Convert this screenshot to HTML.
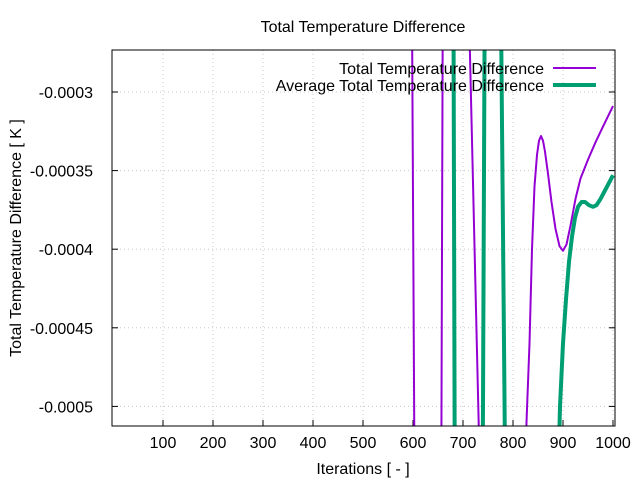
<!DOCTYPE html>
<html><head><meta charset="utf-8"><style>
html,body{margin:0;padding:0;background:#fff;overflow:hidden;width:640px;height:480px;}
svg{display:block;font-family:"Liberation Sans",sans-serif;}
</style></head><body>
<svg id="chart" width="640" height="480">
<defs><clipPath id="pc"><rect x="112" y="50" width="503" height="376"/></clipPath></defs>
<text x="363" y="32" font-size="16" text-anchor="middle">Total Temperature Difference</text>
<g id="grid"></g>
<g id="ticks" font-size="16"></g>
<text x="363" y="474" font-size="16" text-anchor="middle">Iterations [ - ]</text>
<text transform="translate(21,238) rotate(-90)" font-size="16" text-anchor="middle">Total Temperature Difference [ K ]</text>
<g id="series" clip-path="url(#pc)"></g>
<rect x="112" y="50" width="503" height="376" fill="none" stroke="#000" stroke-width="1"/>
<g font-size="16">
<text x="544" y="74" text-anchor="end">Total Temperature Difference</text>
<line x1="553" y1="68" x2="596" y2="68" stroke="#9400d3" stroke-width="2"/>
<text x="544" y="91" text-anchor="end">Average Total Temperature Difference</text>
<line x1="553" y1="85" x2="596" y2="85" stroke="#009e73" stroke-width="4"/>
</g>
</svg>
<script>
const xTicks=[100,200,300,400,500,600,700,800,900,1000];
const yTicks=[-0.0003,-0.00035,-0.0004,-0.00045,-0.0005];
const yTickLabels=["-0.0003","-0.00035","-0.0004","-0.00045","-0.0005"];
const totalX=[590,598,604,650,656,660,666,705,712,738,745,815,827,833,838,843,848,852,856,860,864,870,877,885,893,900,907,915,925,935,950,965,980,1000];
const totalY=[-0.0001,-0.00025,-0.0006,-0.0007,-0.0006,-0.0002,-0.0001,-0.0001,-0.00025,-0.0006,-0.0007,-0.0007,-0.00051,-0.00046,-0.0004,-0.00036,-0.00034,-0.000331,-0.000328,-0.000331,-0.000338,-0.000352,-0.00037,-0.000387,-0.000398,-0.000401,-0.000397,-0.000385,-0.000368,-0.000355,-0.000343,-0.000332,-0.000322,-0.000309];
const avgX=[676,681,684,690,736,740,744,770,776,786,790,885,890,894,900,906,912,918,924,930,937,944,952,960,967,975,985,1000];
const avgY=[-0.0001,-0.00025,-0.0006,-0.0007,-0.0007,-0.0005,-0.0002,-0.0001,-0.00025,-0.0006,-0.0007,-0.0007,-0.00055,-0.0005,-0.00046,-0.000432,-0.000408,-0.000392,-0.00038,-0.000373,-0.00037,-0.00037,-0.000372,-0.000373,-0.000372,-0.000368,-0.000362,-0.000353];
const NS="http://www.w3.org/2000/svg";
const xs=v=>113+(v-0)*0.5;
const ys=v=>92+(-0.0003-v)/0.00005*78.6;
function mk(tag,attrs,parent){const e=document.createElementNS(NS,tag);for(const k in attrs)e.setAttribute(k,attrs[k]);parent.appendChild(e);return e;}
const grid=document.getElementById('grid'),ticks=document.getElementById('ticks'),series=document.getElementById('series');
xTicks.forEach(t=>{const x=xs(t);
 const g=mk('line',{x1:x,y1:50,x2:x,y2:426,stroke:'#c8c8c8','stroke-dasharray':'1,3'},grid);
 
 
 const tk=mk('line',{x1:x,y1:426,x2:x,y2:420,stroke:'#000'},ticks);
 
 
 const lb=mk('text',{x:x,y:448,'text-anchor':'middle'},ticks);lb.textContent=t;
 
 
});
yTicks.forEach((t,i)=>{const y=ys(t);
 const g=mk('line',{x1:112,y1:y,x2:615,y2:y,stroke:'#c8c8c8','stroke-dasharray':'1,3'},grid);
 
 
 const tk=mk('line',{x1:112,y1:y,x2:118,y2:y,stroke:'#000'},ticks);
 
 
 const tk2=mk('line',{x1:615,y1:y,x2:609,y2:y,stroke:'#000'},ticks);
 
 
 const lb=mk('text',{x:93,y:y+6,'text-anchor':'end'},ticks);lb.textContent=yTickLabels[i];
 
 
});
function path(X,Y){return X.map((x,i)=>(i?'L':'M')+xs(x).toFixed(1)+','+ys(Y[i]).toFixed(1)).join('');}
const p1=mk('path',{d:path(totalX,totalY),fill:'none',stroke:'#9400d3','stroke-width':2,'stroke-linejoin':'round'},series);


const p2=mk('path',{d:path(avgX,avgY),fill:'none',stroke:'#009e73','stroke-width':4,'stroke-linejoin':'round'},series);


</script>
</body></html>
